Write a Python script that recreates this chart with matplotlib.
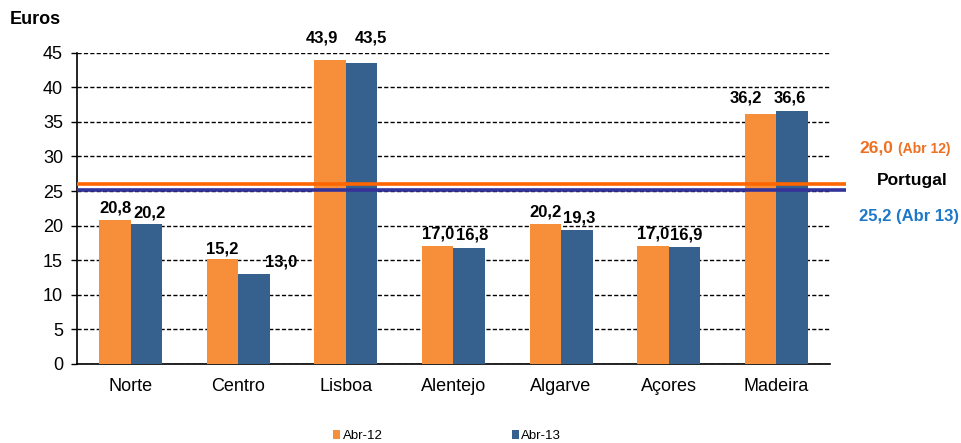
import matplotlib.pyplot as plt
import numpy as np

plt.rcParams['font.family'] = ['Liberation Sans', 'DejaVu Sans']

regions = ["Norte", "Centro", "Lisboa", "Alentejo", "Algarve", "Açores", "Madeira"]
abr12 = [20.8, 15.2, 43.9, 17.0, 20.2, 17.0, 36.2]
abr13 = [20.2, 13.0, 43.5, 16.8, 19.3, 16.9, 36.6]
series_names = ["Abr-12", "Abr-13"]
portugal_abr12 = 26.0
portugal_abr13 = 25.2

c12 = '#F68E3A'
c13 = '#36618F'

W, H = 961, 443
fig = plt.figure(figsize=(W / 100, H / 100), dpi=100)
ax = fig.add_axes([77 / W, 1 - 364 / H, 753 / W, 311.3 / H])

x = np.arange(len(regions))
w = 0.293
b1 = ax.bar(x - w / 2, abr12, w, color=c12, label=series_names[0], zorder=3)
b2 = ax.bar(x + w / 2, abr13, w, color=c13, label=series_names[1], zorder=3)


def fmt(v):
    return f"{v:.1f}".replace(".", ",")


# label nudges so neighbouring labels don't collide
dx12 = [0.0, 0.0, -0.08, 0.0, 0.0, 0.0, -0.14]
dx13 = [0.03, 0.25, 0.09, 0.03, 0.02, 0.02, -0.02]
dy12 = [0.7, 0.3, 2.2, 0.7, 0.7, 0.7, 1.2]
dy13 = [0.5, 0.7, 2.6, 0.7, 0.7, 0.7, 0.8]

for xi, v, d, e in zip(x, abr12, dx12, dy12):
    ax.text(xi - w / 2 + d, v + e, fmt(v), ha='center', va='bottom',
            fontsize=12, fontweight='bold', zorder=5)
for xi, v, d, e in zip(x, abr13, dx13, dy13):
    ax.text(xi + w / 2 + d, v + e, fmt(v), ha='center', va='bottom',
            fontsize=12, fontweight='bold', zorder=5)

# national averages, running a bit past the plot area
ax.plot([-0.5, 6.65], [portugal_abr12] * 2, color='#FF6600', lw=2.6,
        clip_on=False, zorder=4, solid_capstyle='butt')
ax.plot([-0.5, 6.65], [portugal_abr13] * 2, color='#333399', lw=2.6,
        clip_on=False, zorder=4, solid_capstyle='butt')

ax.set_xlim(-0.5, len(regions) - 0.5)
ax.set_ylim(0, 45)
ax.set_yticks(range(0, 46, 5))
ax.set_xticks(x)
ax.set_xticklabels(regions, fontsize=13)
ax.tick_params(axis='y', labelsize=13, length=4, width=1, pad=6)
ax.tick_params(axis='x', length=0, pad=10)
ax.yaxis.grid(True, color='black', linestyle=(0, (3, 1.6)), lw=1, zorder=0)
for s in ['top', 'right']:
    ax.spines[s].set_visible(False)
ax.spines['left'].set_linewidth(1.2)
ax.spines['bottom'].set_linewidth(1.2)

fig.text(10 / W, 1 - 20 / H, "Euros", fontsize=13, fontweight='bold',
         va='center', ha='left')

# side labels for the national averages
fig.text(859 / W, 1 - 148 / H, fmt(portugal_abr12), color='#EE7020',
         fontsize=12.5, fontweight='bold', va='center', ha='left')
fig.text(898 / W, 1 - 149 / H, "(Abr 12)", color='#EE7020',
         fontsize=10, fontweight='bold', va='center', ha='left')
fig.text(912 / W, 1 - 181 / H, "Portugal", color='black',
         fontsize=12.5, fontweight='bold', va='center', ha='center')
fig.text(859 / W, 1 - 216 / H, fmt(portugal_abr13) + " (Abr 13)",
         color='#1E78C8', fontsize=12, fontweight='bold', va='center', ha='left')

fig.legend(handles=[b1, b2], labels=series_names, loc='center',
           bbox_to_anchor=(447 / W, 1 - 436 / H), ncol=2, frameon=False,
           fontsize=9.5, handlelength=0.55, handleheight=0.7, handletextpad=0.15,
           columnspacing=9.8, borderpad=0)

fig.savefig("out.png", dpi=100)
